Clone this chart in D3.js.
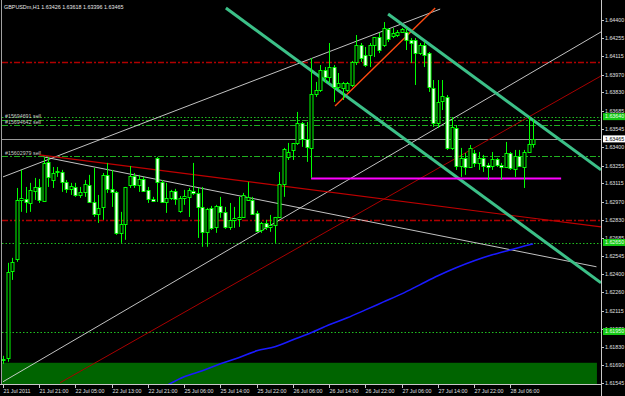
<!DOCTYPE html>
<html><head><meta charset="utf-8">
<script src="https://cdn.jsdelivr.net/npm/d3@7"></script>
<style>
body{margin:0;background:#000;}
svg{display:block;}
text{font-family:"Liberation Sans",Arial,sans-serif;}
</style></head><body>
<svg id="chart" width="625" height="396"></svg>
<script>
// GBPUSDm H1, bars from 21 Jul 2011 13:00
const opens = [1.61735,1.61743,1.62427,1.62521,1.62985,1.62993,1.62961,1.63056,1.63087,1.62977,
1.63284,1.63142,1.63205,1.63205,1.63127,1.63072,1.63087,1.63024,1.63048,1.63103,
1.62969,1.62875,1.62930,1.63182,1.63072,1.63048,1.62726,1.62796,1.63103,1.63174,
1.63103,1.63150,1.63064,1.62993,1.63315,1.63127,1.62969,1.63001,1.63056,1.62899,
1.63001,1.63009,1.63056,1.63040,1.62930,1.62734,1.62922,1.62773,1.62938,1.62891,
1.62773,1.62828,1.62836,1.62851,1.62985,1.62985,1.62883,1.62749,1.62804,1.62773,
1.62789,1.62851,1.63111,1.63323,1.63378,1.63433,1.63590,1.63465,1.63394,1.63818,
1.63850,1.64007,1.63952,1.64030,1.63873,1.63865,1.63850,1.63889,1.64070,1.64203,
1.64125,1.64125,1.64203,1.64266,1.64203,1.64329,1.64274,1.64282,1.64306,1.64306,
1.64243,1.64243,1.64140,1.64203,1.64140,1.63865,1.63590,1.63763,1.63795,1.63394,
1.63551,1.63252,1.63315,1.63244,1.63354,1.63276,1.63315,1.63260,1.63252,1.63307,
1.63260,1.63244,1.63354,1.63229,1.63331,1.63244,1.63362,1.63426];
const highs = [1.61759,1.62490,1.62529,1.63079,1.63221,1.63087,1.63119,1.63158,1.63150,1.63323,
1.63323,1.63244,1.63244,1.63221,1.63142,1.63119,1.63119,1.63087,1.63142,1.63182,
1.63237,1.63024,1.63197,1.63276,1.63221,1.63056,1.62891,1.63087,1.63252,1.63197,
1.63182,1.63166,1.63087,1.63009,1.63323,1.63142,1.63119,1.63064,1.63072,1.63016,
1.63064,1.63079,1.63276,1.63079,1.63087,1.62922,1.62938,1.62946,1.63009,1.62930,
1.62961,1.62930,1.63009,1.63040,1.63127,1.63009,1.62899,1.62812,1.62828,1.62867,
1.62851,1.63205,1.63394,1.63433,1.63433,1.63677,1.63598,1.63598,1.64101,1.63913,
1.64046,1.64030,1.64219,1.64046,1.63983,1.63913,1.63913,1.64078,1.64282,1.64219,
1.64188,1.64219,1.64266,1.64298,1.64384,1.64337,1.64337,1.64321,1.64337,1.64337,
1.64258,1.64258,1.64219,1.64227,1.64148,1.63928,1.63928,1.63928,1.63810,1.63637,
1.63574,1.63394,1.63354,1.63417,1.63378,1.63362,1.63339,1.63276,1.63362,1.63315,
1.63276,1.63441,1.63362,1.63378,1.63378,1.63378,1.63637,1.63618];
const lows = [1.61696,1.61712,1.62356,1.62498,1.62891,1.62883,1.62891,1.62985,1.62961,1.62969,
1.63087,1.63079,1.63166,1.63048,1.63040,1.63024,1.63009,1.63001,1.63009,1.62961,
1.62851,1.62804,1.62828,1.63040,1.62930,1.62710,1.62647,1.62671,1.63079,1.63079,
1.63048,1.63048,1.62961,1.62969,1.62969,1.62961,1.62883,1.62985,1.62946,1.62883,
1.62946,1.62851,1.63024,1.62686,1.62616,1.62616,1.62749,1.62726,1.62844,1.62757,
1.62749,1.62765,1.62773,1.62844,1.62977,1.62867,1.62734,1.62726,1.62749,1.62734,
1.62647,1.62844,1.63009,1.63299,1.63299,1.63417,1.63402,1.63284,1.63158,1.63795,
1.63834,1.63905,1.63905,1.63755,1.63850,1.63771,1.63834,1.63873,1.64046,1.64070,
1.64030,1.64030,1.64109,1.64140,1.64188,1.64227,1.64258,1.64266,1.64298,1.64164,
1.64062,1.63889,1.64125,1.64030,1.63834,1.63559,1.63551,1.63692,1.63378,1.63378,
1.63221,1.63166,1.63182,1.63236,1.63244,1.63221,1.63205,1.63142,1.63221,1.63244,
1.63142,1.63236,1.63221,1.63166,1.63244,1.63079,1.63362,1.63396];
const closes = [1.61727,1.62419,1.62498,1.62985,1.63001,1.62969,1.63064,1.63087,1.62985,1.63276,
1.63166,1.63197,1.63213,1.63127,1.63072,1.63095,1.63024,1.63048,1.63111,1.62969,
1.62875,1.62922,1.63182,1.63072,1.63048,1.62726,1.62796,1.63087,1.63174,1.63103,
1.63150,1.63056,1.62993,1.62977,1.63127,1.62969,1.63001,1.63056,1.62993,1.63001,
1.63016,1.63064,1.63040,1.62930,1.62734,1.62914,1.62765,1.62938,1.62891,1.62773,
1.62828,1.62844,1.62851,1.63024,1.63009,1.62875,1.62741,1.62804,1.62773,1.62789,
1.62851,1.63111,1.63386,1.63362,1.63433,1.63590,1.63465,1.63402,1.63818,1.63850,
1.64007,1.63952,1.64030,1.63873,1.63905,1.63905,1.63905,1.64070,1.64203,1.64101,
1.64046,1.64203,1.64266,1.64164,1.64337,1.64251,1.64298,1.64306,1.64329,1.64243,
1.64219,1.64140,1.64203,1.64125,1.63873,1.63590,1.63755,1.63802,1.63394,1.63559,
1.63252,1.63315,1.63244,1.63394,1.63276,1.63315,1.63252,1.63244,1.63307,1.63260,
1.63244,1.63354,1.63236,1.63331,1.63252,1.63362,1.63425,1.63465];

// moving average (blue), read every 4 bars
const maIndex = [36,40,44,48,52,56,60,64,68,72,76,80,84,88,92,96,100,104,108,112,116,117];
const maValue = [1.61523,1.61594,1.61641,1.61696,1.61743,1.61798,1.61830,1.61885,1.61940,1.62003,
1.62058,1.62120,1.62183,1.62246,1.62317,1.62388,1.62451,1.62506,1.62553,1.62592,1.62631,1.62639];

const priceTicks = ["1.64400","1.64255","1.64115","1.63970","1.63830","1.63685","1.63545","1.63400",
"1.63255","1.63115","1.62970","1.62830","1.62685","1.62545","1.62400","1.62260","1.62115","1.61970",
"1.61830","1.61690","1.61545"];
const timeTickIndex = [0,8,16,24,32,40,48,56,64,72,80,88,96,104,112];
const timeTickLabel = ["21 Jul 2011","21 Jul 21:00","22 Jul 05:00","22 Jul 13:00","22 Jul 21:00",
"25 Jul 06:00","25 Jul 14:00","25 Jul 22:00","26 Jul 06:00","26 Jul 14:00","26 Jul 22:00",
"27 Jul 06:00","27 Jul 14:00","27 Jul 22:00","28 Jul 06:00"];

// horizontal levels
const redLevels = [1.64070, 1.62824];
const alertLevels = [1.63640, 1.62650, 1.61950];
const orderLevels = [1.63614, 1.63574, 1.63327];
const orderLabels = ["#15694691 sell", "#15694642 sell", "#15602979 sell"];
const bid = 1.63465;

// trend lines: [bar1, price1, bar2, price2]
const whiteLines = [[0,1.61555,132,1.64306],[0,1.63166,96.5,1.64486],[9,1.63323,131,1.62459]];
const redLine = [8,1.63339,132,1.62773];
const darkRedLine = [12.6,1.61547,132,1.63960];
const orangeLine = [73.3,1.63724,95.4,1.64494];
const channelLines = [[85,1.64447,132,1.63221],[49.2,1.64494,132,1.62333]];
const magentaLine = [68,1.63154,123.2,1.63154];
const zoneRect = [-1,1.61704,131.1,1.61500];

const svg = d3.select('#chart');
const W = 625, H = 396, right = 601, bottom = 384;

const x = d3.scaleLinear().domain([0,132]).range([3,601]);
const y = d3.scaleLinear().domain([1.61545,1.64400]).range([383,20]);

svg.append('rect').attr('width',W).attr('height',H).attr('fill','#000');

svg.append('defs').append('clipPath').attr('id','clip')
  .append('rect').attr('x',2).attr('y',1).attr('width',right-2).attr('height',bottom-1);

const plot = svg.append('g').attr('clip-path','url(#clip)');

// zone rectangle
plot.append('rect')
  .attr('x', x(zoneRect[0])).attr('y', y(zoneRect[1]))
  .attr('width', x(zoneRect[2]) - x(zoneRect[0]))
  .attr('height', y(zoneRect[3]) - y(zoneRect[1]))
  .attr('fill','#006400');

const hline = (p, color, dash) => plot.append('line')
  .attr('x1',2).attr('x2',right)
  .attr('y1',Math.round(y(p))+0.5).attr('y2',Math.round(y(p))+0.5)
  .attr('stroke',color).attr('stroke-width',1)
  .attr('stroke-dasharray',dash);

redLevels.forEach(p => hline(p,'#b00000','6,2,2,2').attr('stroke-width',1.3));
alertLevels.forEach(p => hline(p,'#20c020','1.5,2'));
orderLevels.forEach(p => hline(p,'#20b020','6,2,2,2'));
hline(bid,'#9a9a9a',null);

orderLabels.forEach((t,i) => {
  plot.append('text').attr('x',5).attr('y',y(orderLevels[i])-1.5)
    .attr('fill','#c8c8c8').attr('font-size','5.3px').text(t);
});

const seg = (l, color, w) => plot.append('line')
  .attr('x1',x(l[0])).attr('y1',y(l[1]))
  .attr('x2',x(l[2])).attr('y2',y(l[3]))
  .attr('stroke',color).attr('stroke-width',w);

whiteLines.forEach(l => seg(l,'#d8d8d8',0.9));
seg(redLine,'#c00000',1.1);
seg(darkRedLine,'#a80000',1);
seg(orangeLine,'#ff4a10',1.4);
channelLines.forEach(l => seg(l,'#3cc088',3));
seg(magentaLine,'#ff00ff',2);

// moving average
plot.append('path')
  .datum(maIndex.map((d,i) => [d, maValue[i]]))
  .attr('d', d3.line().x(d => x(d[0])).y(d => y(d[1])).curve(d3.curveMonotoneX))
  .attr('fill','none').attr('stroke','#1a1aff').attr('stroke-width',1.6);

// candles
const bars = plot.append('g');
opens.forEach((o,i) => {
  const c = closes[i];
  const cx = Math.round(x(i)) + 0.5;
  bars.append('line')
    .attr('x1',cx).attr('x2',cx)
    .attr('y1',y(highs[i])).attr('y2',y(lows[i]))
    .attr('stroke','#00ff00').attr('stroke-width',1);
  const top = Math.round(y(Math.max(o,c))) + 0.5;
  const bot = Math.round(y(Math.min(o,c))) + 0.5;
  bars.append('rect')
    .attr('x',cx-1.5).attr('width',3)
    .attr('y',top).attr('height',Math.max(bot-top,0.5))
    .attr('fill', c >= o ? '#000' : '#fff')
    .attr('stroke','#00ff00').attr('stroke-width',1);
});

// frame and axes
svg.append('line').attr('x1',1.5).attr('x2',1.5).attr('y1',0).attr('y2',bottom)
  .attr('stroke','#a0a0a0');
svg.append('line').attr('x1',right+0.5).attr('x2',right+0.5).attr('y1',0).attr('y2',H)
  .attr('stroke','#c8c8c8');
svg.append('line').attr('x1',0).attr('x2',right+1).attr('y1',bottom+0.5).attr('y2',bottom+0.5)
  .attr('stroke','#c8c8c8');

const yAx = svg.append('g');
priceTicks.forEach(t => {
  const py = Math.round(y(+t)) + 0.5;
  yAx.append('line').attr('x1',right).attr('x2',right+3).attr('y1',py).attr('y2',py)
    .attr('stroke','#c8c8c8');
  yAx.append('text').attr('x',right+4).attr('y',py).attr('dy','0.35em')
    .attr('fill','#e0e0e0').attr('font-size','5.3px').text(t);
});

const priceTag = (p, bg, fg) => {
  const py = y(p);
  yAx.append('rect').attr('x',right+2).attr('y',py-3.5).attr('width',22).attr('height',7)
    .attr('fill',bg);
  yAx.append('text').attr('x',right+4).attr('y',py).attr('dy','0.35em')
    .attr('fill',fg).attr('font-size','5.3px').text(p.toFixed(5));
};
alertLevels.forEach(p => priceTag(p,'#14c814','#eaffea'));
priceTag(bid,'#ffffff','#000');

const xAx = svg.append('g');
timeTickIndex.forEach((d,i) => {
  const tx = Math.round(x(d)) + 0.5;
  xAx.append('line').attr('x1',tx).attr('x2',tx).attr('y1',bottom).attr('y2',bottom+4)
    .attr('stroke','#c8c8c8');
  xAx.append('text').attr('x',tx).attr('y',bottom+9)
    .attr('fill','#e0e0e0').attr('font-size','5.3px').text(timeTickLabel[i]);
});

svg.append('text').attr('x',4).attr('y',9)
  .attr('fill','#e8e8e8').attr('font-size','5.4px')
  .text('GBPUSDm,H1  1.63426 1.63618 1.63396 1.63465');
</script>
</body></html>
